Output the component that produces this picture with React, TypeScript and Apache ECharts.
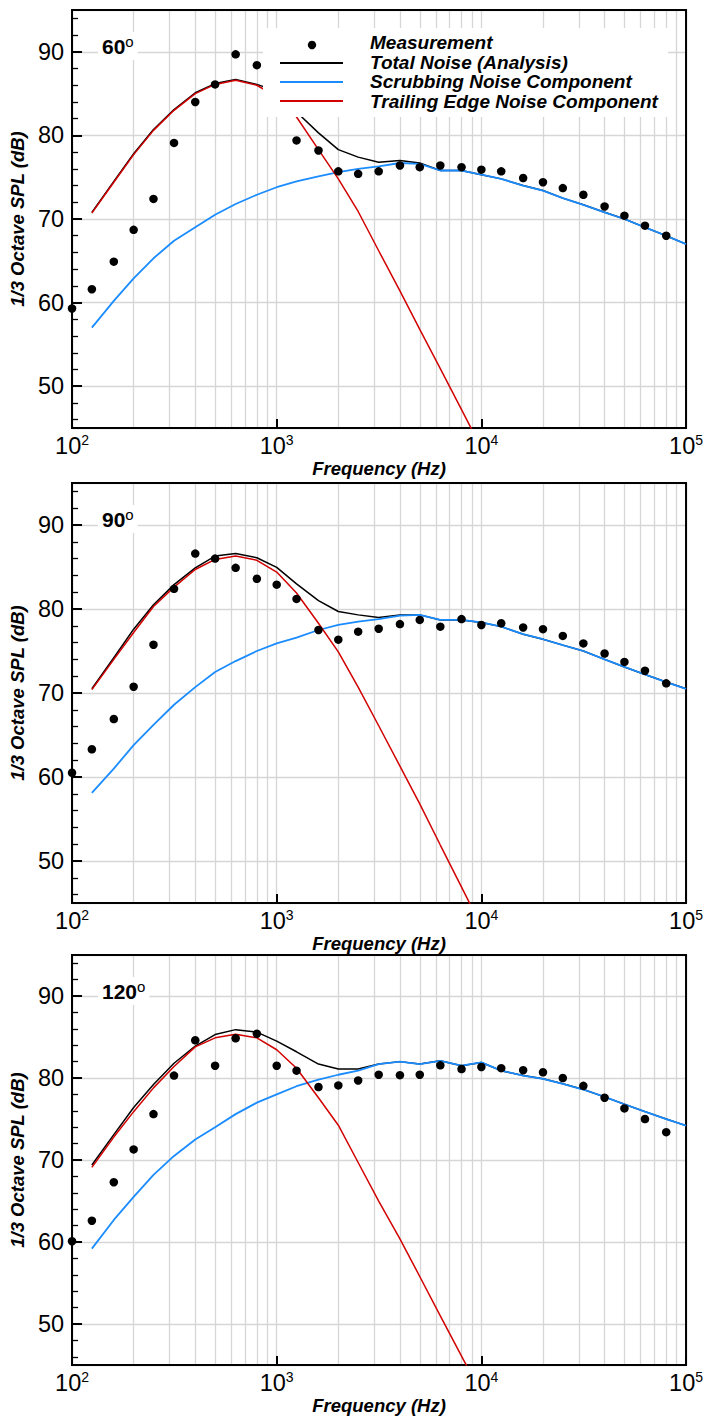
import React, { useEffect, useRef } from "react";
import * as echarts from "echarts";

// 1/3-octave band centre frequencies (Hz)
const freqMeas = [100, 125, 160, 200, 250, 315, 400, 500, 630, 800, 1000, 1250, 1600, 2000, 2500, 3150, 4000, 5000, 6300, 8000, 10000, 12500, 16000, 20000, 25000, 31500, 40000, 50000, 63000, 80000];
const freqAna = [125, 160, 200, 250, 315, 400, 500, 630, 800, 1000, 1250, 1600, 2000, 2500, 3150, 4000, 5000, 6300, 8000, 10000, 12500, 16000, 20000, 25000, 31500, 40000, 50000, 63000, 80000, 100000];
const minorFreqs = [200, 300, 400, 500, 600, 700, 800, 900, 2000, 3000, 4000, 5000, 6000, 7000, 8000, 9000, 20000, 30000, 40000, 50000, 60000, 70000, 80000, 90000];

// 60 deg
const meas60 = [59.3, 61.6, 64.9, 68.7, 72.4, 79.1, 84.0, 86.1, 89.7, 88.4, 84.5, 79.4, 78.2, 75.7, 75.4, 75.7, 76.4, 76.2, 76.4, 76.2, 75.9, 75.7, 74.9, 74.4, 73.7, 72.9, 71.5, 70.4, 69.2, 68.0];
const total60 = [70.8, 74.5, 77.8, 80.7, 83.1, 85.1, 86.2, 86.7, 86.1, 85.3, 82.8, 80.3, 78.3, 77.4, 76.8, 77.0, 76.7, 75.8, 75.8, 75.3, 74.8, 74.0, 73.4, 72.5, 71.7, 70.8, 70.0, 69.0, 68.0, 67.0];
const scrub60 = [57.0, 60.2, 62.9, 65.3, 67.4, 69.0, 70.5, 71.8, 72.9, 73.8, 74.5, 75.1, 75.6, 76.0, 76.3, 76.7, 76.6, 75.8, 75.8, 75.3, 74.8, 74.0, 73.4, 72.5, 71.7, 70.8, 70.0, 69.0, 68.0, 67.0];
const te60 = [70.7, 74.4, 77.7, 80.6, 83.0, 85.0, 86.1, 86.6, 86.0, 84.6, 82.2, 78.3, 74.8, 70.9, 66.2, 61.4, 56.8, 52.1, 47.2, 42.6];

// 90 deg
const meas90 = [60.5, 63.3, 66.9, 70.75, 75.75, 82.4, 86.6, 86.0, 84.9, 83.6, 82.9, 81.2, 77.5, 76.35, 77.3, 77.65, 78.2, 78.7, 77.9, 78.8, 78.1, 78.3, 77.8, 77.6, 76.8, 75.9, 74.7, 73.7, 72.65, 71.15];
const total90 = [70.5, 74.2, 77.6, 80.5, 82.9, 84.9, 86.3, 86.6, 86.1, 84.95, 83.0, 81.0, 79.7, 79.3, 79.0, 79.3, 79.3, 78.7, 78.7, 78.4, 77.9, 77.0, 76.4, 75.7, 75.0, 74.0, 73.1, 72.2, 71.3, 70.5];
const scrub90 = [58.1, 61.0, 63.8, 66.2, 68.6, 70.7, 72.5, 73.8, 75.0, 75.9, 76.6, 77.5, 78.1, 78.5, 78.8, 79.2, 79.3, 78.7, 78.7, 78.4, 77.9, 77.0, 76.4, 75.7, 75.0, 74.0, 73.1, 72.2, 71.3, 70.5];
const te90 = [70.4, 74.0, 77.2, 80.3, 82.6, 84.7, 85.9, 86.3, 85.8, 84.4, 81.9, 78.3, 74.9, 70.7, 66.1, 61.3, 56.8, 51.9, 46.9, 42.2];

// 120 deg
const meas120 = [60.1, 62.6, 67.3, 71.3, 75.6, 80.3, 84.6, 81.5, 84.85, 85.4, 81.5, 80.9, 78.9, 79.1, 79.7, 80.4, 80.35, 80.4, 81.55, 81.1, 81.35, 81.2, 80.95, 80.7, 80.0, 79.05, 77.6, 76.3, 75.0, 73.4];
const total120 = [69.4, 73.1, 76.4, 79.2, 81.8, 83.9, 85.3, 85.9, 85.6, 84.5, 83.2, 81.7, 81.1, 81.1, 81.7, 82.0, 81.7, 82.1, 81.5, 81.9, 80.9, 80.3, 79.9, 79.3, 78.6, 77.7, 76.8, 75.9, 75.0, 74.2];
const scrub120 = [59.2, 62.7, 65.5, 68.2, 70.5, 72.5, 74.0, 75.6, 77.0, 78.0, 79.0, 79.8, 80.4, 80.9, 81.7, 82.0, 81.7, 82.1, 81.5, 81.9, 80.9, 80.3, 79.9, 79.3, 78.6, 77.7, 76.8, 75.9, 75.0, 74.2];
const te120 = [69.1, 72.8, 75.9, 78.8, 81.4, 83.8, 84.9, 85.35, 84.9, 83.45, 81.2, 77.6, 74.25, 69.7, 65.0, 60.4, 55.8, 51.0, 46.1, 41.5];

const angleLabels = ["60", "90", "120"];
const legendNames = ["Measurement", "Total Noise (Analysis)", "Scrubbing Noise Component", "Trailing Edge Noise Component"];

const panels = [
  { meas: meas60, total: total60, scrub: scrub60, te: te60 },
  { meas: meas90, total: total90, scrub: scrub90, te: te90 },
  { meas: meas120, total: total120, scrub: scrub120, te: te120 },
];

const FONT = "'Liberation Sans', Arial, Helvetica, sans-serif";
const GRID = "#d6d6d6";
const BLUE = "#1a8cff";
const RED = "#d20000";

const tops = [10, 483, 955];
const heights = [418, 420, 419];

export default function App() {
  const ref = useRef<HTMLDivElement>(null);
  useEffect(() => {
    if (!ref.current) return;
    const chart = echarts.init(ref.current, undefined, { renderer: "svg" });
    const nameStyle = { fontFamily: FONT, fontSize: 18.5, fontWeight: "bold", fontStyle: "italic", color: "#000" };

    const grid = panels.map((_, i) => ({
      left: 70, width: 617, top: tops[i], height: heights[i],
      show: true, borderColor: "#000", borderWidth: 2, z: 2, backgroundColor: "transparent",
    }));

    const xAxis = panels.map((_, i) => ({
      type: "log", gridIndex: i, min: 100, max: 100000, logBase: 10,
      axisLine: { show: true, lineStyle: { color: "#000", width: 2 } },
      axisTick: { show: true, inside: true, length: 9, lineStyle: { color: "#000", width: 2 } },
      minorTick: { show: false },
      splitLine: { show: true, lineStyle: { color: GRID, width: 1.3 } },
      axisLabel: {
        margin: 5, color: "#000",
        formatter: (v: number) => "{b|10}{s|" + Math.round(Math.log10(v)) + "}",
        rich: {
          b: { fontFamily: FONT, fontSize: 23.5, lineHeight: 26, color: "#000" },
          s: { fontFamily: FONT, fontSize: 14, lineHeight: 14, verticalAlign: "top", color: "#000" },
        },
      },
      name: "Frequency (Hz)", nameLocation: "middle", nameGap: 22, nameTextStyle: nameStyle,
    }));

    const yAxis = panels.map((_, i) => ({
      type: "value", gridIndex: i, min: 45, max: 95, splitNumber: 5,
      axisLine: { show: true, lineStyle: { color: "#000", width: 2 } },
      axisTick: { show: true, inside: true, length: 10, lineStyle: { color: "#000", width: 2 } },
      minorTick: { show: true, splitNumber: 5, length: 6, lineStyle: { color: "#000", width: 1.3 } },
      splitLine: { show: true, lineStyle: { color: GRID, width: 1.3 } },
      axisLabel: { showMinLabel: false, showMaxLabel: false, margin: 8, color: "#000", fontFamily: FONT, fontSize: 23.5 },
      name: "1/3 Octave SPL (dB)", nameLocation: "middle", nameGap: 41, nameRotate: 90, nameTextStyle: nameStyle,
    }));

    const series: any[] = [];
    panels.forEach((p, i) => {
      series.push({
        name: legendNames[1], type: "line", xAxisIndex: i, yAxisIndex: i, z: 3,
        data: freqAna.map((f, k) => [f, p.total[k]]), symbol: "none",
        lineStyle: { color: "#000", width: 1.5 }, itemStyle: { color: "#000" },
        markLine: {
          silent: true, z: 1, symbol: ["none", "none"], label: { show: false },
          lineStyle: { color: GRID, width: 1.3, type: "solid" },
          data: minorFreqs.map((v) => ({ xAxis: v })),
        },
      });
      series.push({
        name: legendNames[2], type: "line", xAxisIndex: i, yAxisIndex: i, z: 3,
        data: freqAna.map((f, k) => [f, p.scrub[k]]), symbol: "none",
        lineStyle: { color: BLUE, width: 1.8 }, itemStyle: { color: BLUE },
      });
      series.push({
        name: legendNames[3], type: "line", xAxisIndex: i, yAxisIndex: i, z: 3,
        data: p.te.map((v, k) => [freqAna[k], v]), symbol: "none",
        lineStyle: { color: RED, width: 1.5 }, itemStyle: { color: RED },
      });
      series.push({
        name: legendNames[0], type: "scatter", xAxisIndex: i, yAxisIndex: i, z: 4,
        data: freqMeas.map((f, k) => [f, p.meas[k]]), symbol: "circle", symbolSize: 8.5,
        itemStyle: { color: "#000", opacity: 1 },
      });
    });

    const title = angleLabels.map((a, i) => ({
      text: a + "{o|o}",
      left: 98, top: tops[i] + 22, padding: [2, 4], backgroundColor: "#fff",
      textStyle: {
        fontFamily: FONT, fontSize: 21, fontWeight: "bold", color: "#000", lineHeight: 24,
        rich: { o: { fontFamily: FONT, fontSize: 15, fontWeight: "normal", verticalAlign: "top", lineHeight: 11, color: "#000" } },
      },
    }));

    const legendText = (t: string, y: number) => ({
      type: "text", x: 370, y, z: 101,
      style: { text: t, fill: "#000", fontFamily: FONT, fontSize: 19, fontWeight: "bold", fontStyle: "italic", verticalAlign: "middle", align: "left" },
    });
    const graphic = [
      { type: "rect", shape: { x: 263, y: 28, width: 405, height: 89 }, style: { fill: "#fff" }, z: 100 },
      { type: "circle", shape: { cx: 312, cy: 45, r: 4.2 }, style: { fill: "#000" }, z: 101 },
      { type: "line", shape: { x1: 280, y1: 63, x2: 343, y2: 63 }, style: { stroke: "#000", lineWidth: 2 }, z: 101 },
      { type: "line", shape: { x1: 280, y1: 82, x2: 343, y2: 82 }, style: { stroke: BLUE, lineWidth: 2 }, z: 101 },
      { type: "line", shape: { x1: 280, y1: 101, x2: 343, y2: 101 }, style: { stroke: RED, lineWidth: 2 }, z: 101 },
      legendText(legendNames[0], 42.5),
      legendText(legendNames[1], 62),
      legendText(legendNames[2], 81),
      legendText(legendNames[3], 101),
    ];

    chart.setOption({
      animation: false,
      backgroundColor: "#fff",
      textStyle: { fontFamily: FONT },
      title, grid, xAxis, yAxis, series, graphic,
    } as any);
    return () => chart.dispose();
  }, []);
  return <div ref={ref} style={{ position: "absolute", left: 0, top: 0, width: 706, height: 1416 }} />;
}
